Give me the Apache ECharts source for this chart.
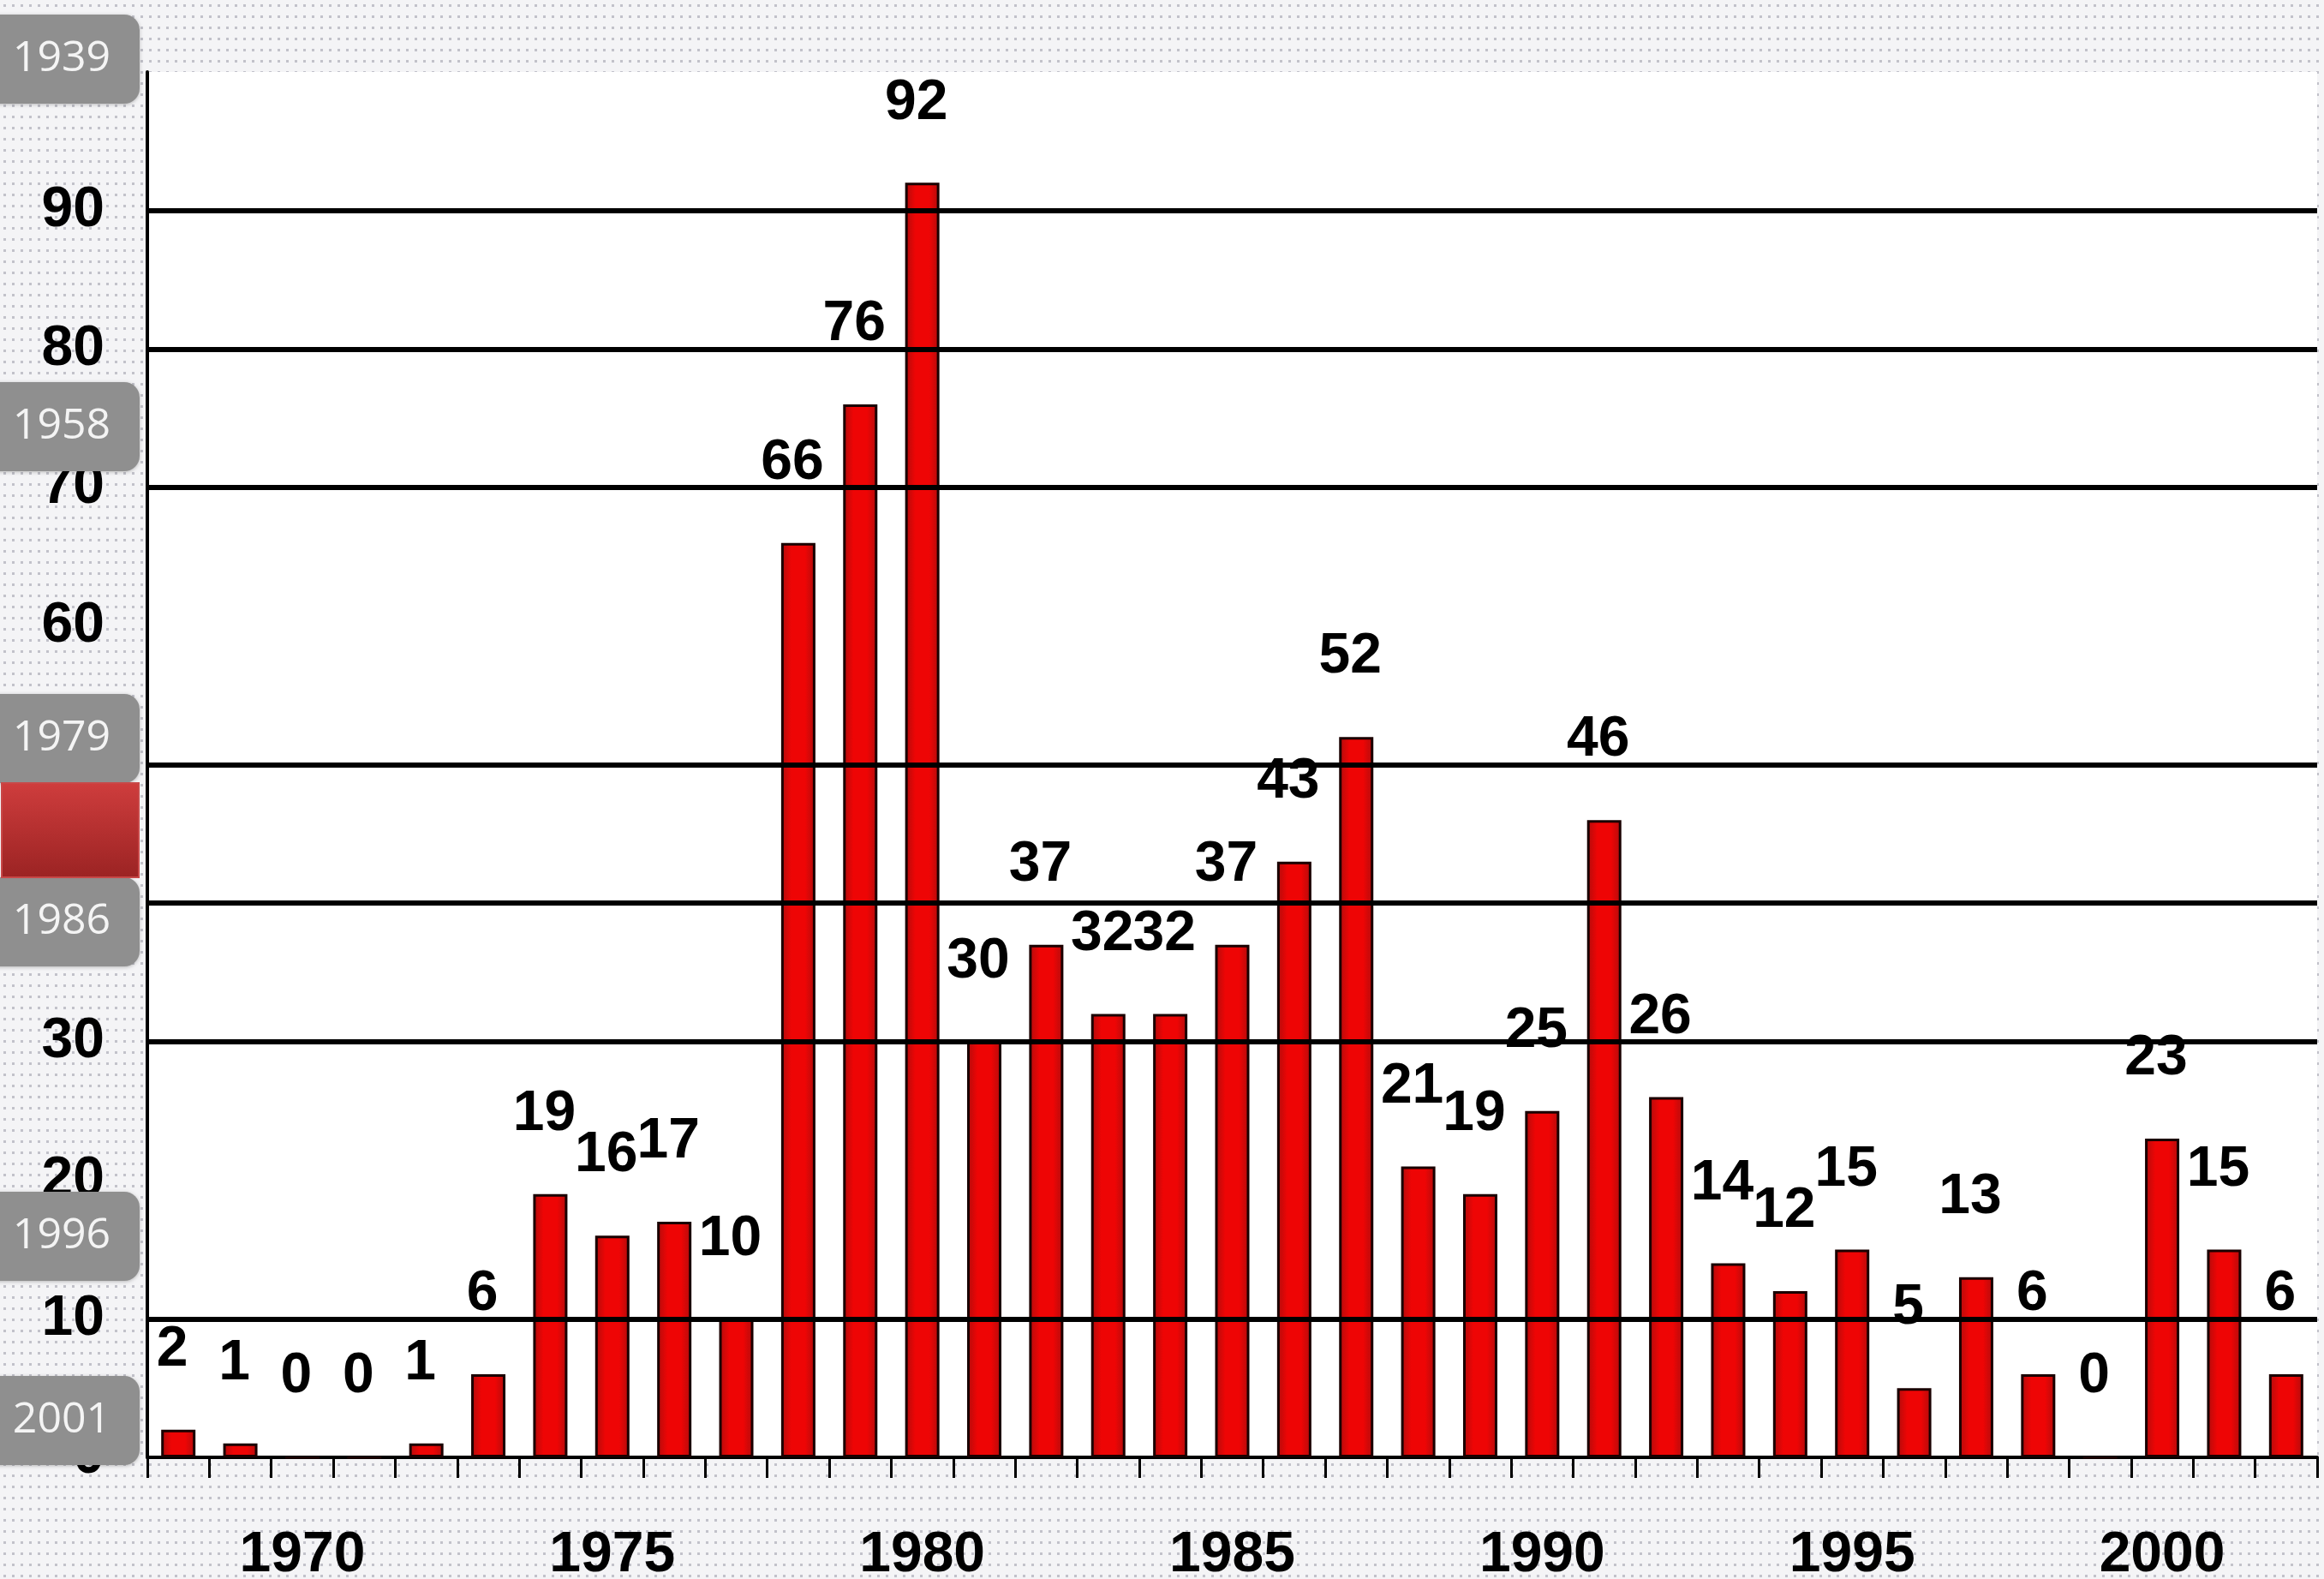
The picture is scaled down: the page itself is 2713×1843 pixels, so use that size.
<!DOCTYPE html>
<html>
<head>
<meta charset="utf-8">
<script src="https://cdn.jsdelivr.net/npm/echarts@6/dist/echarts.min.js"></script>
<style>
html,body{margin:0;padding:0;background:#f4f4f6;}
#chart{width:2713px;height:1843px;}
</style>
</head>
<body>
<div id="chart"></div>
<script>
// ---- data ----
const years = ['1968','1969','1970','1971','1972','1973','1974','1975','1976','1977',
  '1978','1979','1980','1981','1982','1983','1984','1985','1986','1987',
  '1988','1989','1990','1991','1992','1993','1994','1995','1996','1997',
  '1998','1999','2000','2001','2002'];
const counts = [2,1,0,0,1,6,19,16,17,10,
  66,76,92,30,37,32,32,37,43,52,
  21,19,25,46,26,14,12,15,5,13,
  6,0,23,15,6];
const yMin = 0, yMax = 100, yStep = 10;
const gridLineValues = [10,30,40,50,70,80,90];
const timelineLabels = ['1939','1958','1979','1986','1996','2001'];

// ---- styling / layout ----
const condensed = "'Liberation Sans Narrow','Liberation Sans',Arial,sans-serif";
const pc = document.createElement('canvas');
pc.width = 10; pc.height = 13;
const pctx = pc.getContext('2d');
pctx.fillStyle = '#f4f4f6'; pctx.fillRect(0,0,10,13);
pctx.fillStyle = '#c2c2ca'; pctx.fillRect(4,5,3,3);

const buttonTops = [17, 446, 810, 1024, 1391, 1606];
const buttonH = 104;
const graphics = [];
timelineLabels.forEach((t, i) => {
  graphics.push({
    type: 'rect', z: 100,
    shape: {x: -20, y: buttonTops[i], width: 183, height: buttonH, r: 18},
    style: {fill: '#8f8f8f', shadowBlur: 4, shadowColor: 'rgba(0,0,0,0.25)', shadowOffsetY: 1}
  });
  graphics.push({
    type: 'text', z: 101,
    x: 72, y: buttonTops[i] + buttonH / 2,
    style: {text: t, fill: '#f4f4f4', font: "50px 'Open Sans','Noto Sans',sans-serif",
      textAlign: 'center', textVerticalAlign: 'middle'}
  });
});
graphics.push({
  type: 'rect', z: 100,
  shape: {x: 2, y: 914, width: 160, height: 110},
  style: {
    fill: new echarts.graphic.LinearGradient(0,0,0,1,[
      {offset:0,color:'#cf3d3d'},{offset:1,color:'#9b2323'}]),
    stroke: '#c84848', lineWidth: 2
  }
});

const chart = echarts.init(document.getElementById('chart'), null, {renderer: 'canvas'});
chart.setOption({
  animation: false,
  backgroundColor: {image: pc, repeat: 'repeat'},
  grid: {left: 172, right: 8, top: 84, bottom: 142, containLabel: false, outerBoundsMode: 'none',
    show: true, backgroundColor: '#ffffff', borderWidth: 0},
  xAxis: {
    type: 'category',
    data: years,
    boundaryGap: true,
    axisLine: {show: true, lineStyle: {color: '#000', width: 4}},
    axisTick: {show: true, interval: 0, length: 24, lineStyle: {color: '#000', width: 3}},
    axisLabel: {
      interval: (idx, val) => Number(val) % 5 === 0,
      margin: 82,
      color: '#000',
      fontFamily: condensed,
      fontWeight: 'bold',
      fontSize: 66
    },
    splitLine: {show: false}
  },
  yAxis: {
    type: 'value',
    min: yMin, max: yMax, interval: yStep,
    axisLine: {show: true, lineStyle: {color: '#000', width: 4}},
    axisTick: {show: false},
    splitLine: {show: false},
    axisLabel: {
      margin: 50,
      color: '#000',
      fontFamily: condensed,
      fontWeight: 'bold',
      fontSize: 66
    }
  },
  graphic: graphics,
  series: [
    {
      type: 'line',
      data: [],
      z: 1,
      silent: true,
      markLine: {
        silent: true,
        symbol: ['none','none'],
        label: {show: false},
        lineStyle: {color: '#000', width: 6, type: 'solid'},
        data: gridLineValues.map(v => ({yAxis: v}))
      }
    },
    {
      type: 'bar',
      z: 2,
      data: counts,
      barWidth: 40,
      itemStyle: {
        color: new echarts.graphic.LinearGradient(0,0,1,0,[
          {offset:0,color:'#b00c0c'},{offset:0.3,color:'#ee0505'},
          {offset:0.7,color:'#ee0505'},{offset:1,color:'#b00c0c'}]),
        borderColor: '#1a0000',
        borderWidth: 3
      },
      label: {
        show: true,
        position: 'top',
        distance: 60,
        offset: [-7, 0],
        color: '#000',
        fontFamily: condensed,
        fontWeight: 'bold',
        fontSize: 66
      }
    }
  ]
});
</script>
</body>
</html>
